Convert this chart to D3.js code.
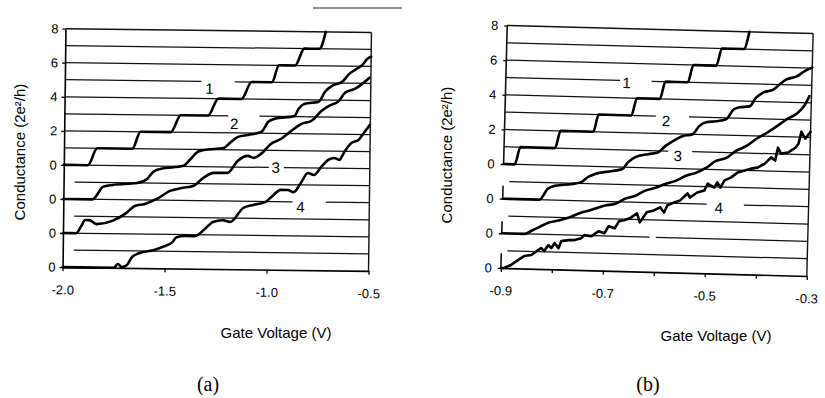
<!DOCTYPE html>
<html>
<head>
<meta charset="utf-8">
<script src="https://cdn.jsdelivr.net/npm/d3@7"></script>
<style>
    body { margin: 0; background: #fff; }
    svg { display: block; }
</style>
</head>
<body>
<svg id="chart" width="825" height="398"></svg>
<script>
// == Data ==
// Gate voltage in V, conductance in units of 2e²/h, each trace measured above its own baseline
const traceOffsets = [6, 4, 2, 0];
const traceNames = ['1', '2', '3', '4'];

// Stacked y axis: four zeros for the baselines, then 2..8 for the top trace
const yTickValues = [0, 2, 4, 6, 8, 10, 12, 14];
const yTickLabels = ['0', '0', '0', '0', '2', '4', '6', '8'];

const xTicksA = [-2.0, -1.5, -1.0, -0.5];
const xTickLabelsA = ['-2.0', '-1.5', '-1.0', '-0.5'];
const xTicksB = [-0.9, -0.8, -0.7, -0.6, -0.5, -0.4, -0.3];
const xTickLabelsB = ['-0.9', '', '-0.7', '', '-0.5', '', '-0.3'];

// Panel (a)
const trace1A = [[-2.000, 0], [-1.882, 0], [-1.837, 1], [-1.665, 1], [-1.626, 2], [-1.478, 2], [-1.429, 3],
    [-1.296, 3], [-1.246, 4], [-1.133, 4], [-1.084, 5], [-0.985, 5], [-0.951, 6], [-0.872, 6], [-0.828, 7],
    [-0.754, 7], [-0.724, 8]];
const trace2A = [[-2.000, 0], [-1.857, 0], [-1.833, 0.31], [-1.808, 0.74], [-1.759, 0.86], [-1.640, 0.99],
    [-1.591, 1.24], [-1.562, 1.65], [-1.527, 1.83], [-1.414, 2.03], [-1.379, 2.44], [-1.345, 2.86],
    [-1.315, 2.98], [-1.217, 3.11], [-1.182, 3.47], [-1.148, 3.77], [-1.099, 3.89], [-1.034, 4.08],
    [-1.000, 4.68], [-0.970, 4.86], [-0.872, 5.04], [-0.852, 5.46], [-0.823, 5.76], [-0.754, 5.89],
    [-0.724, 6.48], [-0.690, 6.84], [-0.640, 7.08], [-0.606, 7.55], [-0.576, 7.80], [-0.542, 8.09],
    [-0.517, 8.46], [-0.500, 8.57]];
const trace3A = [[-2.000, 0], [-1.936, 0], [-1.911, 0.42], [-1.892, 0.78], [-1.872, 0.78], [-1.837, 0.55],
    [-1.759, 0.75], [-1.690, 1.23], [-1.650, 1.64], [-1.601, 1.77], [-1.542, 2.07], [-1.478, 2.55],
    [-1.414, 2.74], [-1.365, 2.85], [-1.315, 3.34], [-1.266, 3.64], [-1.197, 3.65], [-1.148, 4.36],
    [-1.099, 4.66], [-1.069, 4.55], [-1.034, 4.79], [-0.985, 5.39], [-0.936, 5.69], [-0.887, 6.16],
    [-0.837, 6.58], [-0.788, 6.77], [-0.739, 7.37], [-0.704, 7.66], [-0.655, 7.96], [-0.626, 8.44],
    [-0.576, 8.68], [-0.542, 8.97], [-0.507, 9.34]];
const trace4A = [[-2.000, 0], [-1.749, 0], [-1.729, 0.22], [-1.709, 0.04], [-1.685, 0.17], [-1.660, 0.64],
    [-1.626, 0.87], [-1.552, 1.07], [-1.512, 1.25], [-1.463, 1.55], [-1.443, 1.84], [-1.404, 1.91],
    [-1.355, 1.91], [-1.296, 2.45], [-1.266, 2.76], [-1.217, 2.87], [-1.182, 2.77], [-1.118, 3.60],
    [-1.069, 3.79], [-1.010, 3.96], [-0.970, 4.39], [-0.936, 4.69], [-0.901, 4.69], [-0.872, 4.57],
    [-0.837, 5.11], [-0.803, 5.70], [-0.773, 5.59], [-0.739, 6.06], [-0.704, 6.48], [-0.675, 6.60],
    [-0.650, 6.49], [-0.626, 6.96], [-0.591, 7.50], [-0.557, 7.68], [-0.527, 8.16], [-0.502, 8.57]];

// Panel (b)
const trace1B = [[-0.900, 0], [-0.878, 0], [-0.868, 1], [-0.800, 1], [-0.790, 2], [-0.726, 2], [-0.716, 3],
    [-0.652, 3], [-0.642, 4], [-0.597, 4], [-0.587, 5], [-0.543, 5], [-0.533, 6], [-0.488, 6], [-0.478, 7],
    [-0.435, 7], [-0.425, 8]];
const trace2B = [[-0.900, 0], [-0.828, 0], [-0.812, 0.64], [-0.798, 0.82], [-0.765, 0.95], [-0.746, 1.09],
    [-0.734, 1.38], [-0.720, 1.57], [-0.687, 1.76], [-0.667, 1.89], [-0.656, 2.30], [-0.642, 2.60],
    [-0.617, 2.79], [-0.597, 2.92], [-0.584, 3.28], [-0.570, 3.57], [-0.551, 3.88], [-0.531, 4.01],
    [-0.519, 4.47], [-0.505, 4.72], [-0.486, 4.79], [-0.466, 4.92], [-0.452, 5.50], [-0.441, 5.63],
    [-0.421, 5.70], [-0.408, 6.23], [-0.394, 6.53], [-0.375, 6.71], [-0.363, 7.01], [-0.350, 7.31],
    [-0.330, 7.50], [-0.316, 7.79], [-0.300, 8.03]];
const trace3B = [[-0.900, 0], [-0.855, 0], [-0.841, 0.21], [-0.828, 0.40], [-0.808, 0.70], [-0.789, 0.83],
    [-0.769, 1.01], [-0.750, 1.26], [-0.730, 1.45], [-0.718, 1.57], [-0.699, 1.76], [-0.679, 1.88],
    [-0.660, 2.19], [-0.640, 2.37], [-0.621, 2.68], [-0.601, 2.86], [-0.581, 3.11], [-0.562, 3.29],
    [-0.542, 3.60], [-0.523, 3.78], [-0.503, 4.08], [-0.484, 4.50], [-0.464, 4.69], [-0.445, 5.11],
    [-0.425, 5.41], [-0.406, 5.83], [-0.386, 6.19], [-0.366, 6.60], [-0.347, 7.02], [-0.327, 7.38],
    [-0.314, 7.80], [-0.304, 8.38]];
const trace4B = [[-0.900, 0], [-0.894, 0], [-0.880, 0.19], [-0.867, 0.48], [-0.855, 0.72], [-0.841, 0.79],
    [-0.828, 1.09], [-0.822, 1.21], [-0.816, 1.04], [-0.808, 1.39], [-0.802, 1.22], [-0.796, 1.52],
    [-0.788, 1.23], [-0.783, 1.64], [-0.769, 1.71], [-0.757, 1.72], [-0.744, 1.84], [-0.738, 2.02],
    [-0.724, 1.97], [-0.710, 2.27], [-0.699, 2.16], [-0.691, 2.57], [-0.679, 2.46], [-0.671, 2.87],
    [-0.661, 2.94], [-0.650, 3.06], [-0.636, 3.36], [-0.630, 2.84], [-0.617, 3.43], [-0.603, 3.55],
    [-0.591, 3.74], [-0.583, 3.45], [-0.577, 3.86], [-0.564, 4.04], [-0.552, 4.17], [-0.538, 4.58],
    [-0.533, 4.35], [-0.519, 4.65], [-0.505, 4.78], [-0.499, 5.18], [-0.486, 4.96], [-0.480, 5.26],
    [-0.474, 4.97], [-0.466, 5.39], [-0.454, 5.56], [-0.441, 5.86], [-0.427, 5.99], [-0.415, 6.11],
    [-0.402, 6.18], [-0.388, 6.42], [-0.376, 6.79], [-0.368, 6.61], [-0.363, 7.36], [-0.357, 7.02],
    [-0.343, 7.09], [-0.329, 7.38], [-0.323, 7.62], [-0.318, 8.31], [-0.310, 7.92], [-0.300, 8.33]];

// Where the trace numbers sit [V, stacked level]
const labelPosA = [[-1.291, 10.6], [-1.167, 8.55], [-0.961, 6.0], [-0.837, 3.7]];
const labelPosB = [[-0.663, 10.88], [-0.584, 8.74], [-0.559, 6.74], [-0.476, 3.8]];

// Grid lines: gaps [level, fromV, toV] and shortened lines [level, fromV]
const gridGapsA = [[11, -1.330, -1.167], [9, -1.197, -1.044], [6, -0.995, -0.921], [4, -0.877, -0.714]];
const gridShortA = [[1, -1.946], [3, -1.946], [5, -1.946]];
const gridGapsB = [[11, -0.676, -0.614], [9, -0.604, -0.539], [7, -0.578, -0.531], [4, -0.500, -0.427],
    [2, -0.610, -0.598]];
const gridShortB = [[1, -0.888], [3, -0.888], [5, -0.888]];
// Panel (b): y axis only from the top trace's baseline up, short stubs at the other baselines
const axisStubsB = [[0, 0.85], [2, 0.7], [4, 0.75]];

// == Layout ==
const FONT = '"Liberation Sans", Arial, sans-serif';
const panels = [
    {
        xDomain: [-2.0, -0.5], xRange: [64, 370], yRange: [269, 30.5], angle: 0.7,
        traces: [trace1A, trace2A, trace3A, trace4A],
        curves: [d3.curveMonotoneX, d3.curveMonotoneX, d3.curveMonotoneX, d3.curveMonotoneX],
        xTicks: xTicksA, xTickLabels: xTickLabelsA, labelPos: labelPosA,
        gridGaps: gridGapsA, gridShort: gridShortA, fullAxis: true, yPad: 4
    },
    {
        xDomain: [-0.9, -0.3], xRange: [504, 810], yRange: [272, 29.5], angle: 1.5,
        traces: [trace1B, trace2B, trace3B, trace4B],
        curves: [d3.curveMonotoneX, d3.curveMonotoneX, d3.curveMonotoneX, d3.curveLinear],
        xTicks: xTicksB, xTickLabels: xTickLabelsB, labelPos: labelPosB,
        gridGaps: gridGapsB, gridShort: gridShortB, fullAxis: false, yPad: 6
    }
];

const svg = d3.select('#chart');

/**
 * Draw one panel: grid, axes, the four stacked traces and their numbers
 */
function drawPanel(p) {
    const x = d3.scaleLinear().domain(p.xDomain).range(p.xRange);
    const y = d3.scaleLinear().domain([0, 14]).range(p.yRange);
    const cx = (p.xRange[0] + p.xRange[1]) / 2;
    const cy = (p.yRange[0] + p.yRange[1]) / 2;
    // the scan is slightly tilted
    const g = svg.append('g').attr('transform', `rotate(${p.angle},${cx},${cy})`);

    // grid lines (one per unit), cut where the trace numbers sit
    for (let level = 1; level <= 14; level++) {
        const shortLine = p.gridShort.find(s => s[0] === level);
        let segs = [[shortLine ? shortLine[1] : p.xDomain[0], p.xDomain[1]]];
        p.gridGaps.filter(gp => gp[0] === level).forEach(gp => {
            segs = segs.flatMap(([a, b]) => {
                if (gp[2] <= a || gp[1] >= b) return [[a, b]];
                const out = [];
                if (gp[1] > a) out.push([a, gp[1]]);
                if (gp[2] < b) out.push([gp[2], b]);
                return out;
            });
        });
        segs.forEach(([a, b]) => {
            g.append('line')
                .attr('x1', x(a)).attr('x2', x(b))
                .attr('y1', y(level)).attr('y2', y(level))
                .attr('stroke', '#111')
                .attr('stroke-width', level === 14 ? 1.5 : 1.25);
        });
    }

    // right border
    g.append('line')
        .attr('x1', x(p.xDomain[1])).attr('x2', x(p.xDomain[1]))
        .attr('y1', y(0)).attr('y2', y(14))
        .attr('stroke', '#111').attr('stroke-width', 1.4);

    // x axis
    const xAxis = g.append('g')
        .attr('transform', `translate(0,${y(0)})`)
        .call(d3.axisBottom(x)
            .tickValues(p.xTicks)
            .tickFormat((d, i) => p.xTickLabels[i])
            .tickSize(4)
            .tickSizeOuter(0)
            .tickPadding(14));
    xAxis.attr('font-size', 13).attr('font-family', FONT).style('color', '#000');
    xAxis.select('.domain').attr('stroke-width', 1.6);
    xAxis.selectAll('.tick line').attr('stroke-width', 1.3);

    // y axis
    const yAxis = g.append('g')
        .attr('transform', `translate(${x(p.xDomain[0])},0)`)
        .call(d3.axisLeft(y)
            .tickValues(yTickValues)
            .tickFormat((d, i) => yTickLabels[i])
            .tickSize(3)
            .tickSizeOuter(0)
            .tickPadding(p.yPad));
    yAxis.attr('font-size', 13).attr('font-family', FONT).style('color', '#000');
    yAxis.selectAll('.tick line').attr('stroke-width', 1.3);
    if (p.fullAxis) {
        yAxis.select('.domain').attr('stroke-width', 1.6);
    }
    else {
        yAxis.select('.domain').remove();
        g.append('line')
            .attr('x1', x(p.xDomain[0])).attr('x2', x(p.xDomain[0]))
            .attr('y1', y(6)).attr('y2', y(14))
            .attr('stroke', '#111').attr('stroke-width', 1.6);
        axisStubsB.forEach(([base, h]) => {
            g.append('line')
                .attr('x1', x(p.xDomain[0])).attr('x2', x(p.xDomain[0]))
                .attr('y1', y(base)).attr('y2', y(base + h))
                .attr('stroke', '#111').attr('stroke-width', 1.6);
        });
    }

    // traces
    p.traces.forEach((trace, i) => {
        const line = d3.line()
            .x(d => x(d[0]))
            .y(d => y(d[1] + traceOffsets[i]))
            .curve(p.curves[i]);
        g.append('path')
            .datum(trace)
            .attr('d', line)
            .attr('fill', 'none')
            .attr('stroke', '#000')
            .attr('stroke-width', 2.6)
            .attr('stroke-linejoin', 'round')
            .attr('stroke-linecap', 'round');
    });

    // trace numbers
    g.selectAll('text.trace-label')
        .data(p.labelPos)
        .enter()
        .append('text')
        .attr('class', 'trace-label')
        .attr('x', d => x(d[0]))
        .attr('y', d => y(d[1]))
        .attr('dy', '0.36em')
        .attr('text-anchor', 'middle')
        .attr('font-family', FONT)
        .attr('font-size', 15)
        .text((d, i) => traceNames[i]);
}

panels.forEach(drawPanel);

// == Titles ==
const yTitlePos = [[20, 152], [447, 155]];
yTitlePos.forEach(([tx, ty]) => {
    svg.append('text')
        .attr('transform', `translate(${tx},${ty}) rotate(-90)`)
        .attr('text-anchor', 'middle')
        .attr('dy', '0.35em')
        .attr('font-family', FONT)
        .attr('font-size', 15)
        .text('Conductance (2e²/h)');
});

const xTitlePos = [[276, 338], [716, 341]];
xTitlePos.forEach(([tx, ty]) => {
    svg.append('text')
        .attr('x', tx).attr('y', ty)
        .attr('text-anchor', 'middle')
        .attr('font-family', FONT)
        .attr('font-size', 15)
        .text('Gate Voltage (V)');
});

const panelNames = ['(a)', '(b)'];
const panelNamePos = [[208, 391], [648, 391]];
panelNames.forEach((name, i) => {
    svg.append('text')
        .attr('x', panelNamePos[i][0]).attr('y', panelNamePos[i][1])
        .attr('text-anchor', 'middle')
        .attr('font-family', '"Liberation Serif", "Times New Roman", serif')
        .attr('font-size', 20)
        .text(name);
});

// stray line from the scan above panel (a)
svg.append('line')
    .attr('x1', 313).attr('x2', 402)
    .attr('y1', 8).attr('y2', 8)
    .attr('stroke', '#222').attr('stroke-width', 1.2);
</script>
</body>
</html>
